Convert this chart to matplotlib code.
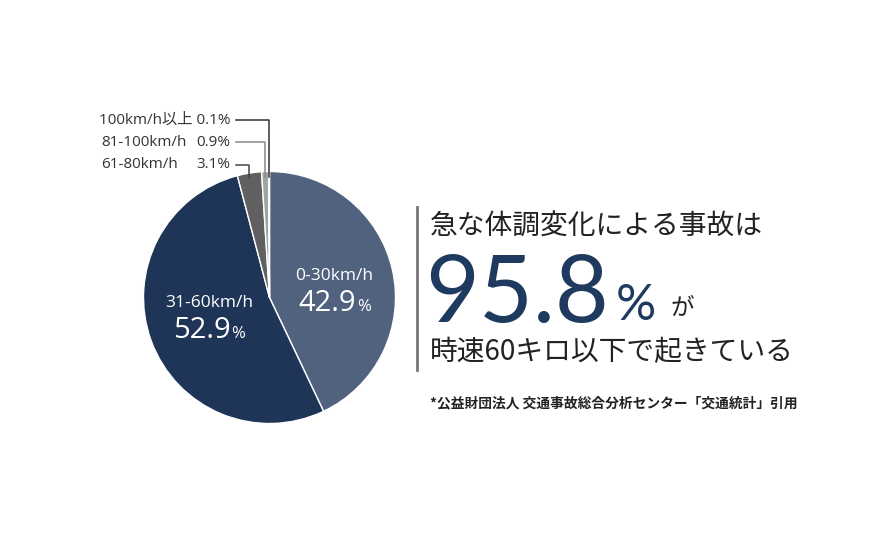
import matplotlib.pyplot as plt
import numpy as np

plt.rcParams['font.family'] = ['Noto Sans CJK JP', 'DejaVu Sans']

labels = ['0-30km/h', '31-60km/h', '61-80km/h', '81-100km/h', '100km/h以上']
shares = [42.9, 52.9, 3.1, 0.9, 0.1]
colors = ['#51627f', '#1f3557', '#606060', '#a3a3a3', '#d6d6d6']
leader_colors = ['#444444', '#888888', '#333333']
headline = '急な体調変化による事故は'
big_value = '95.8'
subline = '時速60キロ以下で起きている'
source = '*公益財団法人 交通事故総合分析センター「交通統計」引用'

W, H = 893, 535
fig = plt.figure(figsize=(W / 100, H / 100), dpi=100)
renderer = fig.canvas.get_renderer()
latin = ['Open Sans', 'Noto Sans CJK JP']


def fx(px):
    return px / W


def fy(py):
    return 1 - py / H


def width_px(t):
    return t.get_window_extent(renderer).width


# pie, centre (269.5, 297.5) px, radius 126 px
cx, cy, r = 269.5, 297.5, 126
ax = fig.add_axes([fx(cx - r), fy(cy + r), 2 * r / W, 2 * r / H])
wedges, _ = ax.pie(shares, colors=colors, startangle=90, counterclock=False,
                   radius=1, wedgeprops=dict(edgecolor='white', linewidth=1))
ax.set_xlim(-1, 1)
ax.set_ylim(-1, 1)
ax.set_aspect('auto')
ax.axis('off')

# labels inside the two big slices
inner = [(334.5, 276, 311), (209, 303, 338)]
for i, (x, y1, base) in enumerate(inner):
    fig.text(fx(x), fy(y1), labels[i], color='white', fontsize=12.5,
             ha='center', va='center', family=latin)
    num = fig.text(0, fy(base), f'{shares[i]}', color='white', fontsize=21,
                   ha='left', va='baseline', family=latin)
    pct = fig.text(0, fy(base), '%', color='white', fontsize=12,
                   ha='left', va='baseline', family=latin)
    wn, wp = width_px(num), width_px(pct)
    x0 = x - (wn + wp + 1) / 2
    num.set_x(fx(x0))
    pct.set_x(fx(x0 + wn + 1))

# small slices with leader lines
label_y = {2: 165, 3: 142, 4: 120}
for k, i in enumerate([2, 3, 4]):
    w = wedges[i]
    mid = np.deg2rad((w.theta1 + w.theta2) / 2)
    ex, ey = np.cos(mid), np.sin(mid)
    ly = (cy - label_y[i]) / r
    lx = (236 - cx) / r
    ax.plot([lx, ex, ex], [ly, ly, ey * 0.96], color=leader_colors[k],
            lw=1.1, clip_on=False)
    if i == 4:
        fig.text(fx(230), fy(label_y[i]), f'{labels[i]} {shares[i]}%', fontsize=11,
                 color='#333333', ha='right', va='center', family=latin)
    else:
        fig.text(fx(101), fy(label_y[i]), labels[i], fontsize=11, color='#333333',
                 ha='left', va='center', family=latin)
        fig.text(fx(230), fy(label_y[i]), f'{shares[i]}%', fontsize=11,
                 color='#333333', ha='right', va='center', family=latin)

# headline block
fig.add_artist(plt.Line2D([fx(417), fx(417)], [fy(207), fy(370)], color='#777777', lw=2))
fig.text(fx(430), fy(226), headline, fontsize=20, color='#222222',
         ha='left', va='center')
big = fig.text(fx(425), fy(322), big_value, fontsize=67, color='#1f3a5f',
               ha='left', va='baseline', family=['Lato', 'DejaVu Sans'])
xb = 425 + width_px(big)
fig.text(fx(max(xb + 2, 616)), fy(320), '%', fontsize=36, color='#1f3a5f',
         ha='left', va='baseline', family=['Lato', 'DejaVu Sans'])
fig.text(fx(671), fy(309), 'が', fontsize=17, color='#222222', ha='left', va='center')
fig.text(fx(430), fy(352), subline, fontsize=20, color='#222222',
         ha='left', va='center')
fig.text(fx(430), fy(403), source, fontsize=9.9, fontweight='bold',
         color='#222222', ha='left', va='center')

fig.savefig('out.png', dpi=100)
